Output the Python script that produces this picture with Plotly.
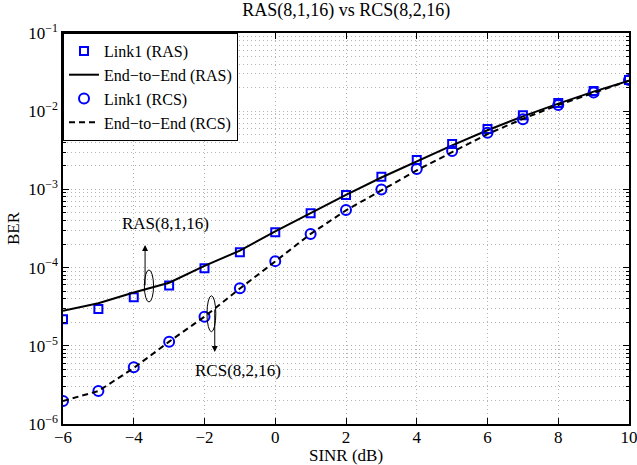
import plotly.graph_objects as go

# SINR grid (dB)
sinr = [-6, -5, -4, -3, -2, -1, 0, 1, 2, 3, 4, 5, 6, 7, 8, 9, 10]

# BER curves
ber_link1_ras = [2.18e-5, 2.96e-5, 4.17e-5, 5.9e-5, 9.8e-5, 1.57e-4, 2.83e-4, 4.94e-4,
                 8.5e-4, 1.45e-3, 2.38e-3, 3.8e-3, 5.9e-3, 8.9e-3, 1.27e-2, 1.81e-2, 2.5e-2]
ber_e2e_ras = [2.8e-5, 3.5e-5, 4.8e-5, 6.4e-5, 1.05e-4, 1.65e-4, 2.9e-4, 5.0e-4,
               8.5e-4, 1.42e-3, 2.3e-3, 3.65e-3, 5.7e-3, 8.6e-3, 1.25e-2, 1.78e-2, 2.45e-2]
ber_link1_rcs = [1.97e-6, 2.64e-6, 5.3e-6, 1.13e-5, 2.36e-5, 5.43e-5, 1.21e-4, 2.69e-4,
                 5.46e-4, 1.0e-3, 1.82e-3, 3.1e-3, 5.3e-3, 7.9e-3, 1.2e-2, 1.73e-2, 2.5e-2]
ber_e2e_rcs = [1.97e-6, 2.64e-6, 5.2e-6, 1.13e-5, 2.36e-5, 5.4e-5, 1.2e-4, 2.7e-4,
               5.4e-4, 9.8e-4, 1.75e-3, 3.0e-3, 5.1e-3, 8.0e-3, 1.2e-2, 1.72e-2, 2.45e-2]

# Axis ticks
x_ticks = [-6, -4, -2, 0, 2, 4, 6, 8, 10]
y_decades = [1e-6, 1e-5, 1e-4, 1e-3, 1e-2, 1e-1]
y_ticktext = ["10<sup>\u22126</sup>", "10<sup>\u22125</sup>", "10<sup>\u22124</sup>",
              "10<sup>\u22123</sup>", "10<sup>\u22122</sup>", "10<sup>\u22121</sup>"]
y_minor = [m * d for d in y_decades[:-1] for m in range(2, 10)]

FONT = "Liberation Serif, Times New Roman, serif"
BLUE = "#0000ff"
GRID = "#b4b4b4"
GRID_DASH = "1px,3px"

fig = go.Figure()
fig.add_trace(go.Scatter(
    x=sinr, y=ber_link1_ras, mode="markers", name="Link1 (RAS)",
    marker=dict(symbol="square-open", size=8, color=BLUE, line=dict(width=2, color=BLUE))))
fig.add_trace(go.Scatter(
    x=sinr, y=ber_e2e_ras, mode="lines", name="End\u2212to\u2212End (RAS)",
    line=dict(color="black", width=2)))
fig.add_trace(go.Scatter(
    x=sinr, y=ber_link1_rcs, mode="markers", name="Link1 (RCS)",
    marker=dict(symbol="circle-open", size=10, color=BLUE, line=dict(width=2, color=BLUE))))
fig.add_trace(go.Scatter(
    x=sinr, y=ber_e2e_rcs, mode="lines", name="End\u2212to\u2212End (RCS)",
    line=dict(color="black", width=2, dash="6px,4px")))

# Ellipses marking the curve groups
fig.add_shape(type="circle", xref="x", yref="y", x0=-3.70, x1=-3.44,
              y0=10 ** -4.44, y1=10 ** -4.03, line=dict(color="black", width=1))
fig.add_shape(type="circle", xref="x", yref="y", x0=-1.93, x1=-1.68,
              y0=10 ** -4.82, y1=10 ** -4.36, line=dict(color="black", width=1))

# Arrows pointing at the labels
fig.add_annotation(x=-3.68, y=-3.71, ax=0, ay=42, text="", showarrow=True,
                   arrowhead=2, arrowsize=1.2, arrowwidth=1, arrowcolor="black")
fig.add_annotation(x=-1.71, y=-5.08, ax=0, ay=-44, text="", showarrow=True,
                   arrowhead=2, arrowsize=1.2, arrowwidth=1, arrowcolor="black")

fig.add_annotation(x=-3.1, y=-3.44, text="RAS(8,1,16)", showarrow=False,
                   font=dict(family=FONT, size=17, color="black"))
fig.add_annotation(x=-1.06, y=-5.31, text="RCS(8,2,16)", showarrow=False,
                   font=dict(family=FONT, size=17, color="black"))

fig.update_layout(
    width=637, height=465,
    margin=dict(l=63, r=8, t=33, b=41, autoexpand=False),
    paper_bgcolor="white", plot_bgcolor="white",
    font=dict(family=FONT, size=17, color="black"),
    title=dict(text="RAS(8,1,16) vs RCS(8,2,16)", x=0.5435, xanchor="center",
               y=0.992, yanchor="top", font=dict(family=FONT, size=18, color="black")),
    legend=dict(x=0, y=1, xanchor="left", yanchor="top", bgcolor="white",
                bordercolor="black", borderwidth=1,
                font=dict(family=FONT, size=16, color="black"),
                itemwidth=30, tracegroupgap=0),
    showlegend=True,
)

fig.update_xaxes(
    range=[-6, 10], tickvals=x_ticks, ticktext=[str(v).replace("-", "\u2212") for v in x_ticks],
    ticks="inside", ticklen=6, tickcolor="black", mirror="allticks",
    showline=True, linecolor="black", linewidth=1.5,
    showgrid=True, gridcolor=GRID, griddash=GRID_DASH, gridwidth=1,
    zeroline=False, tickfont=dict(family=FONT, size=17), automargin=False,
    ticklabeloverflow="allow", ticklabelstandoff=-3,
    title=dict(text="SINR (dB)", standoff=0, font=dict(family=FONT, size=17)),
)
fig.update_yaxes(
    type="log", range=[-6, -1], tickvals=y_decades, ticktext=y_ticktext,
    ticks="inside", ticklen=6, tickcolor="black", mirror="allticks",
    showline=True, linecolor="black", linewidth=1.5,
    showgrid=True, gridcolor=GRID, griddash=GRID_DASH, gridwidth=1,
    zeroline=False, tickfont=dict(family=FONT, size=17), automargin=False,
    ticklabeloverflow="allow",
    minor=dict(tickvals=y_minor, ticks="inside", ticklen=3, tickcolor="black",
               showgrid=True, gridcolor=GRID, griddash=GRID_DASH, gridwidth=1),
    title=dict(text="BER", standoff=4, font=dict(family=FONT, size=17)),
)

fig.write_html("out.html")
